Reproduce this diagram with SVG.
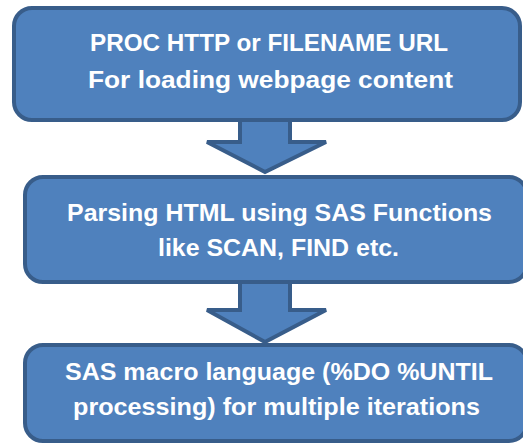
<svg xmlns="http://www.w3.org/2000/svg" width="523" height="446" viewBox="0 0 523 446">
<style>
.box{fill:#4F81BD;stroke:#385D8A;stroke-width:4}
.arrow{fill:#4F81BD;stroke:#385D8A;stroke-width:4;stroke-linejoin:miter}
.t{font-family:"Liberation Sans",Arial,sans-serif;font-weight:bold;font-size:24px;fill:#FFFFFF;text-anchor:middle}
</style>
<rect width="523" height="446" fill="#FFFFFF"/>
<g id="connectors">
<path class="arrow" d="M240,120 L290,120 L290,142 L326,142 L265,172 L207,142 L240,142 Z"/>
<path class="arrow" d="M240,282 L290,282 L290,310 L326,310 L265,342 L207,310 L240,310 Z"/>
</g>
<g id="node1">
<rect class="box" x="14" y="8" width="506" height="112" rx="18" ry="18"/>
<text class="t" x="269" y="51" textLength="358" lengthAdjust="spacingAndGlyphs">PROC HTTP or FILENAME URL</text>
<text class="t" x="270.5" y="88" textLength="365" lengthAdjust="spacingAndGlyphs">For loading webpage content</text>
</g>
<g id="node2">
<rect class="box" x="25" y="177" width="502" height="105" rx="18" ry="18"/>
<text class="t" x="279.5" y="221" textLength="425" lengthAdjust="spacingAndGlyphs">Parsing HTML using SAS Functions</text>
<text class="t" x="278.5" y="256" textLength="241" lengthAdjust="spacingAndGlyphs">like SCAN, FIND etc.</text>
</g>
<g id="node3">
<rect class="box" x="25" y="345" width="502" height="96" rx="18" ry="18"/>
<text class="t" x="279" y="380" textLength="428" lengthAdjust="spacingAndGlyphs">SAS macro language (%DO %UNTIL</text>
<text class="t" x="276.5" y="415" textLength="407" lengthAdjust="spacingAndGlyphs">processing) for multiple iterations</text>
</g>
</svg>
